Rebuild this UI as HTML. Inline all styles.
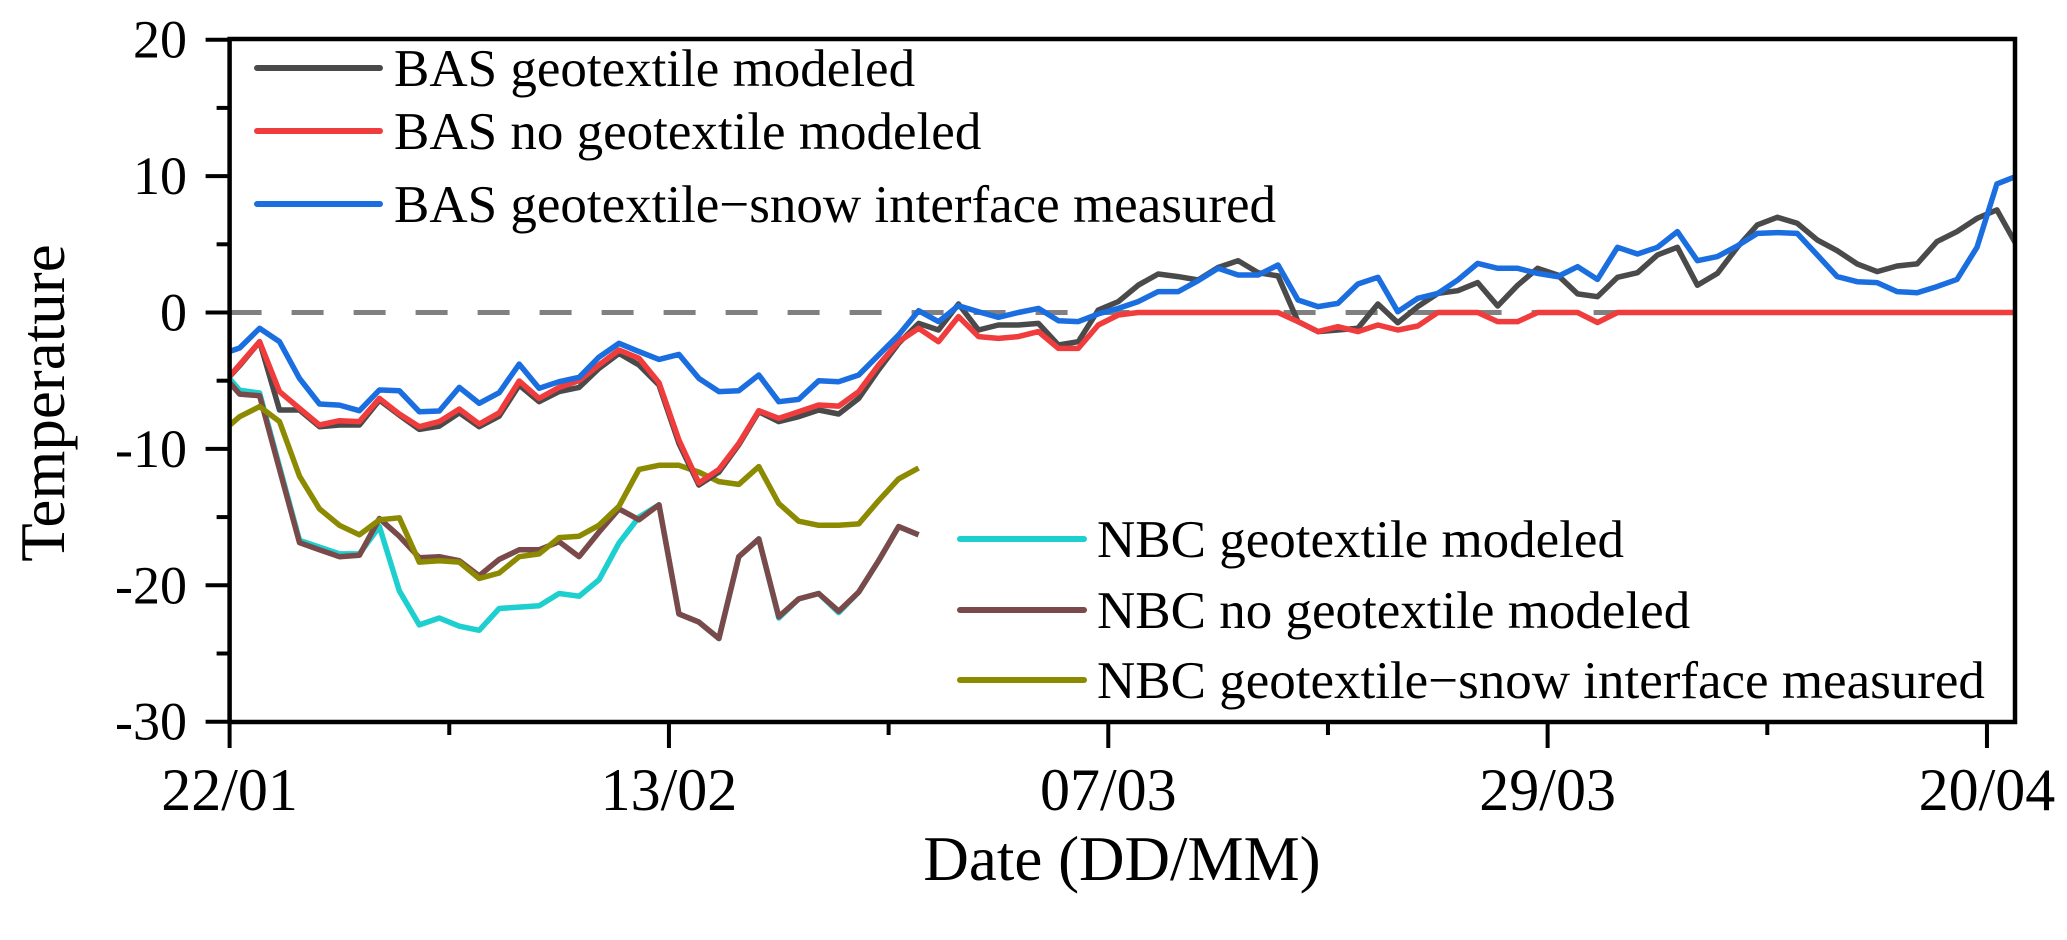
<!DOCTYPE html>
<html><head><meta charset="utf-8"><style>
html,body{margin:0;padding:0;background:#fff;}
svg{display:block;font-family:"Liberation Serif","Times New Roman",serif;}
</style></head><body>
<svg id="chart" width="2067" height="940" viewBox="0 0 2067 940" xmlns="http://www.w3.org/2000/svg">
<defs><clipPath id="plotclip"><rect x="231" y="39" width="1783" height="683"/></clipPath></defs>
<g id="series" clip-path="url(#plotclip)"></g>
<g id="axes"></g>
<g id="legend"></g>
</svg>
<script>
const yTicks = [20, 10, 0, -10, -20, -30];
const yMinorTicks = [15, 5, -5, -15, -25];
const xTickDays = [0, 22, 44, 66, 88];
const xTickLabels = ["22/01", "13/02", "07/03", "29/03", "20/04"];
const xMinorDays = [11, 33, 55, 77];
const firstDay = -0.5;
const basGeoModeled = [-5.5,-3.9,-2.14,-7.15,-7.15,-8.37,-8.25,-8.25,-6.42,-7.52,-8.57,-8.33,-7.35,-8.37,-7.6,-5.32,-6.54,-5.8,-5.49,-4.1,-3.0,-3.85,-5.32,-9.6,-12.65,-11.7,-9.7,-7.27,-8.0,-7.64,-7.15,-7.44,-6.3,-4.2,-2.26,-0.8,-1.28,0.62,-1.28,-0.92,-0.92,-0.8,-2.38,-2.14,0.18,0.8,2.0,2.82,2.63,2.38,3.3,3.8,2.92,2.68,-0.67,-1.4,-1.28,-1.16,0.62,-0.75,0.43,1.4,1.6,2.19,0.48,2.0,3.24,2.75,1.36,1.16,2.58,2.92,4.22,4.78,2.0,2.87,4.78,6.42,6.98,6.54,5.32,4.53,3.56,3.0,3.41,3.56,5.2,5.93,6.9,7.52,4.9];
const basNoGeoModeled = [-5.5,-3.83,-2.14,-5.8,-7.03,-8.25,-7.93,-8.0,-6.3,-7.44,-8.37,-8.0,-7.08,-8.18,-7.35,-5.02,-6.3,-5.49,-5.0,-3.85,-2.75,-3.36,-5.15,-9.35,-12.5,-11.5,-9.6,-7.2,-7.76,-7.27,-6.78,-6.86,-5.8,-3.85,-2.14,-1.16,-2.14,-0.3,-1.77,-1.9,-1.77,-1.4,-2.63,-2.63,-0.92,-0.18,0,0,0,0,0,0,0,0,-0.67,-1.4,-1.04,-1.4,-0.92,-1.28,-0.99,0,0,0,-0.67,-0.67,0,0,0,-0.73,0,0,0,0,0,0,0,0,0,0,0,0,0,0,0,0,0,0,0,0,0];
const basMeasured = [-3.1,-2.6,-1.16,-2.14,-4.83,-6.71,-6.79,-7.2,-5.68,-5.73,-7.27,-7.22,-5.49,-6.66,-5.88,-3.78,-5.56,-5.07,-4.75,-3.27,-2.26,-2.87,-3.44,-3.07,-4.83,-5.8,-5.73,-4.58,-6.54,-6.37,-5.0,-5.07,-4.58,-3.12,-1.65,0.13,-0.67,0.5,0.06,-0.35,0,0.3,-0.6,-0.67,-0.1,0.3,0.8,1.53,1.53,2.33,3.24,2.75,2.75,3.48,0.92,0.43,0.67,2.09,2.58,0.06,1.04,1.4,2.38,3.6,3.24,3.24,2.87,2.63,3.36,2.43,4.78,4.29,4.78,5.93,3.8,4.1,4.88,5.8,5.86,5.8,4.22,2.63,2.26,2.19,1.53,1.45,1.9,2.43,4.78,9.43,10.0];
const nbcGeoModeled = [-4.0,-5.7,-5.9,-11.3,-16.7,-17.2,-17.7,-17.7,-15.7,-20.4,-22.9,-22.4,-23.0,-23.3,-21.7,-21.6,-21.5,-20.6,-20.8,-19.6,-16.9,-15.0,-14.1,-22.1,-22.7,-23.9,-17.9,-16.6,-22.4,-21.0,-20.6,-22.0,-20.5,-18.2,-15.7,-16.3];
const nbcNoGeoModeled = [-4.3,-5.98,-6.1,-11.5,-16.88,-17.4,-17.9,-17.8,-15.1,-16.4,-17.98,-17.9,-18.2,-19.3,-18.1,-17.4,-17.4,-16.8,-17.9,-16.1,-14.4,-15.2,-14.1,-22.1,-22.7,-23.9,-17.9,-16.6,-22.3,-21.0,-20.6,-21.9,-20.5,-18.2,-15.7,-16.3];
const nbcMeasured = [-8.9,-7.64,-6.9,-8.0,-12.0,-14.4,-15.6,-16.3,-15.2,-15.05,-18.3,-18.2,-18.3,-19.5,-19.1,-17.9,-17.7,-16.5,-16.4,-15.6,-14.2,-11.5,-11.2,-11.2,-11.7,-12.4,-12.6,-11.3,-14.0,-15.3,-15.6,-15.6,-15.5,-13.8,-12.2,-11.4];

const X0 = 229.6, PXDAY = 19.97, XR = 2015, YT = 39, YB = 722;
const xScale = d => X0 + d * PXDAY;
const yScale = v => 312.5 - v * 13.64;
const NS = "http://www.w3.org/2000/svg";
function mk(tag, attrs, parent) {
  const e = document.createElementNS(NS, tag);
  for (const k in attrs) e.setAttribute(k, attrs[k]);
  parent.appendChild(e);
  return e;
}
const gS = document.getElementById("series");
const gA = document.getElementById("axes");
const gL = document.getElementById("legend");

const zl = mk("line", {x1: X0, x2: XR, y1: yScale(0), y2: yScale(0), stroke: "#808080", "stroke-width": 5, "stroke-dasharray": "32 30"}, gS);



const series = [
  {vals: nbcGeoModeled, color: "#1ecfcf", name: "nbc-geotextile-modeled-line"},
  {vals: nbcNoGeoModeled, color: "#7a4a4a", name: "nbc-no-geotextile-modeled-line"},
  {vals: nbcMeasured, color: "#8c8a00", name: "nbc-measured-line"},
  {vals: basGeoModeled, color: "#4a4a4a", name: "bas-geotextile-modeled-line"},
  {vals: basNoGeoModeled, color: "#f03c3c", name: "bas-no-geotextile-modeled-line"},
  {vals: basMeasured, color: "#1a6ee0", name: "bas-measured-line"}
];
series.forEach(s => {
  const pts = s.vals.map((v, i) => xScale(firstDay + i).toFixed(1) + "," + yScale(v).toFixed(1)).join(" ");
  const pl = mk("polyline", {points: pts, fill: "none", stroke: s.color, "stroke-width": 5.5, "stroke-linejoin": "round"}, gS);
  
  
});

const fr = mk("rect", {x: X0, y: YT, width: XR - X0, height: YB - YT, fill: "none", stroke: "#000", "stroke-width": 4.5}, gA);



yTicks.forEach(v => {
  const y = yScale(v);
  const t = mk("line", {x1: X0 - 24, x2: X0, y1: y, y2: y, stroke: "#000", "stroke-width": 4}, gA);
  
  
  const l = mk("text", {x: 187, y: y + 18, "font-size": 54, "text-anchor": "end", fill: "#000"}, gA);
  l.textContent = String(v);
  
  
});
yMinorTicks.forEach(v => {
  const y = yScale(v);
  const t = mk("line", {x1: X0 - 13, x2: X0, y1: y, y2: y, stroke: "#000", "stroke-width": 4}, gA);
  
  
});
xTickDays.forEach((d, i) => {
  const x = xScale(d);
  const t = mk("line", {x1: x, x2: x, y1: YB, y2: YB + 26, stroke: "#000", "stroke-width": 4}, gA);
  
  
  const l = mk("text", {x: x, y: 810, "font-size": 60, "text-anchor": "middle", fill: "#000"}, gA);
  l.textContent = xTickLabels[i];
  
  
});
xMinorDays.forEach(d => {
  const x = xScale(d);
  const t = mk("line", {x1: x, x2: x, y1: YB, y2: YB + 13, stroke: "#000", "stroke-width": 4}, gA);
  
  
});
const xt = mk("text", {x: 1122, y: 880, "font-size": 63, "text-anchor": "middle", fill: "#000"}, gA);
xt.textContent = "Date (DD/MM)";


const yt = mk("text", {x: 0, y: 0, "font-size": 63, "text-anchor": "middle", fill: "#000", transform: "translate(64,403) rotate(-90)"}, gA);
yt.textContent = "Temperature";



const legendTop = [
  {label: "BAS geotextile modeled", color: "#4a4a4a", y: 68},
  {label: "BAS no geotextile modeled", color: "#f03c3c", y: 131},
  {label: "BAS geotextile\u2212snow interface measured", color: "#1a6ee0", y: 204}
];
const legendBottom = [
  {label: "NBC geotextile modeled", color: "#1ecfcf", y: 539},
  {label: "NBC no geotextile modeled", color: "#7a4a4a", y: 610},
  {label: "NBC geotextile\u2212snow interface measured", color: "#8c8a00", y: 680}
];
function drawLegend(items, lx1, lx2, tx) {
  items.forEach(it => {
    const g = mk("g", {}, gL);
    
    
    const ln = mk("line", {x1: lx1, x2: lx2, y1: it.y, y2: it.y, stroke: it.color, "stroke-width": 6, "stroke-linecap": "round"}, g);
    
    
    const t = mk("text", {x: tx, y: it.y + 18, "font-size": 53, fill: "#000"}, g);
    t.textContent = it.label;
    
    
  });
}
drawLegend(legendTop, 257, 380, 394);
drawLegend(legendBottom, 960, 1084, 1097);
</script>
</body></html>
